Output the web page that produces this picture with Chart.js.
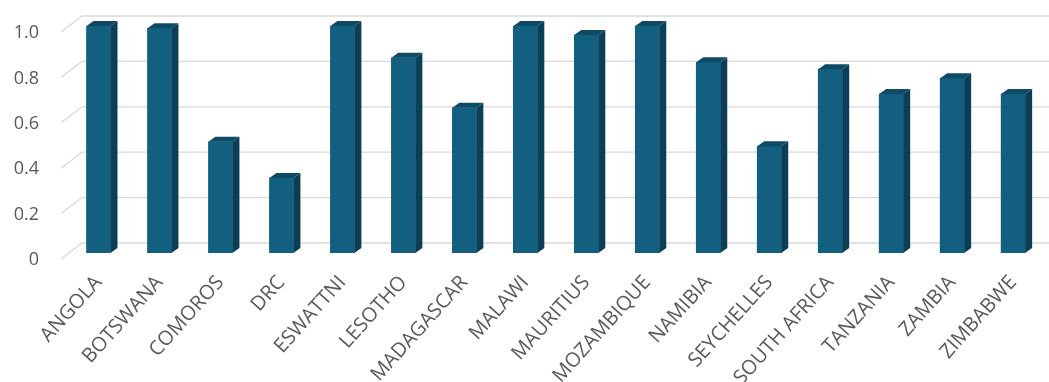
<!DOCTYPE html>
<html>
<head>
<meta charset="utf-8">
<script src="https://cdn.jsdelivr.net/npm/chart.js@4/dist/chart.umd.min.js"></script>
<style>
  html, body { margin: 0; padding: 0; background: #fff; }
  #wrap { width: 1049px; height: 382px; }
</style>
</head>
<body>
<div id="wrap"><canvas id="bars"></canvas></div>
<script>
const countries = [
  'ANGOLA', 'BOTSWANA', 'COMOROS', 'DRC', 'ESWATTNI', 'LESOTHO', 'MADAGASCAR', 'MALAWI',
  'MAURITIUS', 'MOZAMBIQUE', 'NAMIBIA', 'SEYCHELLES', 'SOUTH AFRICA', 'TANZANIA', 'ZAMBIA', 'ZIMBABWE'
];
const scores = [1.0, 0.99, 0.49, 0.33, 1.0, 0.86, 0.64, 1.0, 0.96, 1.0, 0.84, 0.47, 0.81, 0.70, 0.77, 0.70];
const yTicks = [0, 0.2, 0.4, 0.6, 0.8, 1.0];

// fake 3d: back wall grid + side/top faces on bars
const depth = { dx: 7, dy: 5 };
const wall = { dx: 21, dy: 10 };

const wallGrid = {
  id: 'wallGrid',
  beforeDatasetsDraw(chart) {
    const { ctx, chartArea, scales: { y } } = chart;
    ctx.save();
    ctx.strokeStyle = '#d9d9d9';
    ctx.lineWidth = 1.3;
    yTicks.forEach(v => {
      const py = y.getPixelForValue(v);
      const backX = chartArea.left + 14;
      ctx.beginPath();
      ctx.moveTo(backX - wall.dx, py + 6);
      ctx.lineTo(backX, py - wall.dy);
      ctx.lineTo(chart.width, py - wall.dy);
      ctx.stroke();
    });
    ctx.restore();
  }
};

const barFaces = {
  id: 'barFaces',
  afterDatasetsDraw(chart) {
    const { ctx } = chart;
    chart.getDatasetMeta(0).data.forEach(bar => {
      const { x, y, base, width } = bar.getProps(['x', 'y', 'base', 'width'], true);
      const l = x - width / 2, r = x + width / 2;
      ctx.save();
      ctx.fillStyle = '#0b3f57';
      ctx.beginPath();
      ctx.moveTo(r, y);
      ctx.lineTo(r + depth.dx, y - depth.dy);
      ctx.lineTo(r + depth.dx, base - depth.dy);
      ctx.lineTo(r, base);
      ctx.closePath();
      ctx.fill();
      ctx.fillStyle = '#0e4a66';
      ctx.beginPath();
      ctx.moveTo(l, y);
      ctx.lineTo(l + depth.dx, y - depth.dy);
      ctx.lineTo(r + depth.dx, y - depth.dy);
      ctx.lineTo(r, y);
      ctx.closePath();
      ctx.fill();
      ctx.restore();
    });
  }
};

new Chart(document.getElementById('bars'), {
  type: 'bar',
  data: {
    labels: countries,
    datasets: [{
      data: scores,
      backgroundColor: '#135f80',
      borderWidth: 0,
      barThickness: 24
    }]
  },
  options: {
    responsive: true,
    maintainAspectRatio: false,
    animation: false,
    layout: { padding: { top: 26, right: 1, left: 0, bottom: 0 } },
    plugins: { legend: { display: false }, tooltip: { enabled: false } },
    scales: {
      x: {
        grid: { display: false, drawTicks: false },
        border: { display: false },
        ticks: {
          color: '#595959',
          font: { family: 'Open Sans', size: 20 },
          minRotation: 48,
          maxRotation: 48,
          padding: 18,
          autoSkip: false
        },
        afterFit(axis) { axis.height = 129; }
      },
      y: {
        min: 0,
        max: 1,
        grid: { display: false, drawTicks: false },
        border: { display: false },
        afterBuildTicks(axis) { axis.ticks = yTicks.map(v => ({ value: v })); },
        ticks: {
          color: '#595959',
          font: { family: 'Open Sans', size: 18 },
          padding: 29,
          labelOffset: 7,
          callback: v => v === 0 ? '0' : v.toFixed(1)
        },
        afterFit(axis) {
          axis.width = 68;
          axis.paddingTop = 0;
          axis.paddingBottom = 0;
        }
      }
    }
  },
  plugins: [wallGrid, barFaces]
});
</script>
</body>
</html>
